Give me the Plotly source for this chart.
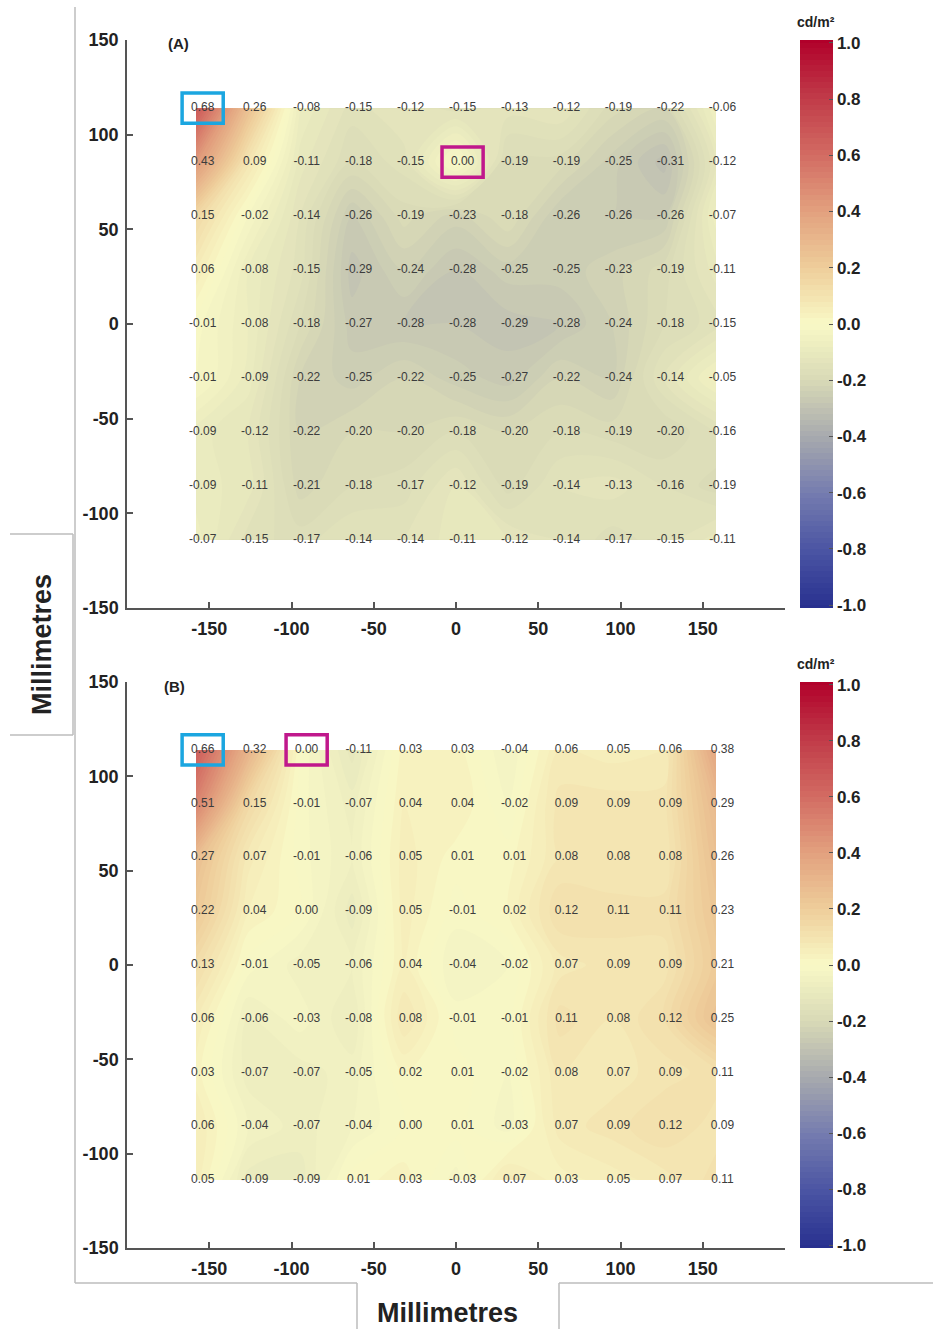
import plotly.graph_objects as go

W, H = 933, 1329

# ---------------- data ----------------
x_mm = [-158.0, -126.4, -94.8, -63.2, -31.6, 0.0, 31.6, 63.2, 94.8, 126.4, 158.0]
y_mm = [114.0, 85.5, 57.0, 28.5, 0.0, -28.5, -57.0, -85.5, -114.0]

panel_a = [
    [0.68, 0.26, -0.08, -0.15, -0.12, -0.15, -0.13, -0.12, -0.19, -0.22, -0.06],
    [0.43, 0.09, -0.11, -0.18, -0.15, 0.00, -0.19, -0.19, -0.25, -0.31, -0.12],
    [0.15, -0.02, -0.14, -0.26, -0.19, -0.23, -0.18, -0.26, -0.26, -0.26, -0.07],
    [0.06, -0.08, -0.15, -0.29, -0.24, -0.28, -0.25, -0.25, -0.23, -0.19, -0.11],
    [-0.01, -0.08, -0.18, -0.27, -0.28, -0.28, -0.29, -0.28, -0.24, -0.18, -0.15],
    [-0.01, -0.09, -0.22, -0.25, -0.22, -0.25, -0.27, -0.22, -0.24, -0.14, -0.05],
    [-0.09, -0.12, -0.22, -0.20, -0.20, -0.18, -0.20, -0.18, -0.19, -0.20, -0.16],
    [-0.09, -0.11, -0.21, -0.18, -0.17, -0.12, -0.19, -0.14, -0.13, -0.16, -0.19],
    [-0.07, -0.15, -0.17, -0.14, -0.14, -0.11, -0.12, -0.14, -0.17, -0.15, -0.11],
]

panel_b = [
    [0.66, 0.32, 0.00, -0.11, 0.03, 0.03, -0.04, 0.06, 0.05, 0.06, 0.38],
    [0.51, 0.15, -0.01, -0.07, 0.04, 0.04, -0.02, 0.09, 0.09, 0.09, 0.29],
    [0.27, 0.07, -0.01, -0.06, 0.05, 0.01, 0.01, 0.08, 0.08, 0.08, 0.26],
    [0.22, 0.04, 0.00, -0.09, 0.05, -0.01, 0.02, 0.12, 0.11, 0.11, 0.23],
    [0.13, -0.01, -0.05, -0.06, 0.04, -0.04, -0.02, 0.07, 0.09, 0.09, 0.21],
    [0.06, -0.06, -0.03, -0.08, 0.08, -0.01, -0.01, 0.11, 0.08, 0.12, 0.25],
    [0.03, -0.07, -0.07, -0.05, 0.02, 0.01, -0.02, 0.08, 0.07, 0.09, 0.11],
    [0.06, -0.04, -0.07, -0.04, 0.00, 0.01, -0.03, 0.07, 0.09, 0.12, 0.09],
    [0.05, -0.09, -0.09, 0.01, 0.03, -0.03, 0.07, 0.03, 0.05, 0.07, 0.11],
]

# highlighted cells (row, col)
cyan_a, magenta_a = (0, 0), (1, 5)
cyan_b, magenta_b = (0, 0), (0, 2)

colorbar_ticks = [-1.0, -0.8, -0.6, -0.4, -0.2, 0.0, 0.2, 0.4, 0.6, 0.8, 1.0]
colorbar_labels = ["-1.0", "-0.8", "-0.6", "-0.4", "-0.2", "0.0", "0.2", "0.4", "0.6", "0.8", "1.0"]
axis_ticks = [-150, -100, -50, 0, 50, 100, 150]
axis_labels = ["-150", "-100", "-50", "0", "50", "100", "150"]

colorscale = [
    [0.00, "#28308f"],
    [0.10, "#4a54a3"],
    [0.20, "#747baf"],
    [0.30, "#a7a9ae"],
    [0.40, "#d8d9b6"],
    [0.50, "#f9f9c6"],
    [0.60, "#eecd9a"],
    [0.70, "#e2a07e"],
    [0.80, "#d26a62"],
    [0.90, "#c03a48"],
    [1.00, "#b1002a"],
]

# ---------------- helpers ----------------
def px(x):
    return x / W

def py(y):
    return 1 - y / H

TEXT_DX = 4.0  # label offset to the right of the grid node (mm)

fig = go.Figure()

panels = [
    dict(z=panel_a, xa="x", ya="y", ca="coloraxis", top=40, bot=608,
         cyan=cyan_a, mag=magenta_a, tag="(A)", tagpos=(178, 44)),
    dict(z=panel_b, xa="x2", ya="y2", ca="coloraxis2", top=682, bot=1248,
         cyan=cyan_b, mag=magenta_b, tag="(B)", tagpos=(174, 686)),
]

for p in panels:
    fig.add_trace(go.Contour(
        x=x_mm, y=y_mm, z=p["z"], xaxis=p["xa"], yaxis=p["ya"],
        coloraxis=p["ca"],
        contours=dict(start=-1, end=1, size=0.02, coloring="fill", showlines=False),
        line=dict(width=0), hoverinfo="skip",
    ))
    tx, ty, tt = [], [], []
    for i, yv in enumerate(y_mm):
        for j, xv in enumerate(x_mm):
            tx.append(xv + TEXT_DX)
            ty.append(yv)
            tt.append(f"{p['z'][i][j]:.2f}")
    fig.add_trace(go.Scatter(
        x=tx, y=ty, text=tt, mode="text", xaxis=p["xa"], yaxis=p["ya"],
        textfont=dict(family="Liberation Sans, Arial", size=12, color="#3c3c3c"),
        hoverinfo="skip", showlegend=False,
    ))
    for (r, c), col in [(p["cyan"], "#1ba6e0"), (p["mag"], "#c0188c")]:
        cx, cy = x_mm[c] + TEXT_DX, y_mm[r]
        fig.add_shape(type="rect", xref=p["xa"], yref=p["ya"],
                      x0=cx - 12.5, x1=cx + 12.5, y0=cy - 8, y1=cy + 8,
                      line=dict(color=col, width=3.5))
    fig.add_annotation(text="<b>" + p["tag"] + "</b>", xref="paper", yref="paper",
                       x=px(p["tagpos"][0]), y=py(p["tagpos"][1]),
                       xanchor="center", yanchor="middle", showarrow=False,
                       font=dict(family="Liberation Sans, Arial", size=15, color="#222"))
    fig.add_annotation(text="<b>cd/m²</b>", xref="paper", yref="paper",
                       x=px(816), y=py(p["top"] - 18), xanchor="center", yanchor="middle",
                       showarrow=False,
                       font=dict(family="Liberation Sans, Arial", size=14, color="#222"))

axis_style = dict(
    range=[-200, 200], tickvals=axis_ticks, ticktext=axis_labels,
    ticks="inside", ticklen=6, tickwidth=1.5,
    tickcolor="#555", showline=True, linecolor="#555", linewidth=1.5, showgrid=False,
    zeroline=False, mirror=False,
    tickfont=dict(family="Liberation Sans, Arial", size=18, color="#222", weight="bold"),
)
xaxis_style = dict(axis_style, ticklabelstandoff=4)
yaxis_style = dict(axis_style, ticklabelstandoff=3)
yaxis_style["range"] = [-150, 150]

def cbar(top, bot):
    return dict(
        x=px(800), xanchor="left", y=py((top + bot) / 2), yanchor="middle",
        len=(bot - top) / H, lenmode="fraction", thickness=33, thicknessmode="pixels",
        xpad=0, ypad=0,
        outlinewidth=0, tickvals=colorbar_ticks, ticktext=colorbar_labels,
        ticks="inside", ticklen=4, tickcolor="#555",
        tickfont=dict(family="Liberation Sans, Arial", size=17, color="#222", weight="bold"),
    )

fig.update_layout(
    width=W, height=H, margin=dict(l=0, r=0, t=0, b=0, autoexpand=False),
    paper_bgcolor="white", plot_bgcolor="white", showlegend=False,
    xaxis=dict(xaxis_style, domain=[px(127), px(785)], anchor="y"),
    yaxis=dict(yaxis_style, domain=[py(608), py(40)], anchor="x"),
    xaxis2=dict(xaxis_style, domain=[px(127), px(785)], anchor="y2"),
    yaxis2=dict(yaxis_style, domain=[py(1248), py(682)], anchor="x2"),
    coloraxis=dict(colorscale=colorscale, cmin=-1, cmax=1, colorbar=cbar(40, 608)),
    coloraxis2=dict(colorscale=colorscale, cmin=-1, cmax=1, colorbar=cbar(682, 1248)),
)

# figure frame lines and axis-title boxes
frame = "#bdbdbd"
def line(x0, y0, x1, y1):
    fig.add_shape(type="line", xref="paper", yref="paper",
                  x0=px(x0), y0=py(y0), x1=px(x1), y1=py(y1),
                  line=dict(color=frame, width=1.5))

line(75, 7, 75, 1283)
line(75, 1283, 357, 1283)
line(357, 1283, 357, 1329)
line(559, 1283, 559, 1329)
line(559, 1283, 933, 1283)
line(10, 534, 73, 534)
line(10, 735, 73, 735)
line(73, 534, 73, 735)

fig.add_annotation(text="<b>Millimetres</b>", xref="paper", yref="paper",
                   x=px(42), y=py(645), textangle=-90, showarrow=False,
                   xanchor="center", yanchor="middle",
                   font=dict(family="Liberation Sans, Arial", size=27, color="#222"))
fig.add_annotation(text="<b>Millimetres</b>", xref="paper", yref="paper",
                   x=px(447), y=py(1313), showarrow=False,
                   xanchor="center", yanchor="middle",
                   font=dict(family="Liberation Sans, Arial", size=27, color="#222"))

fig.write_html("out.html")
